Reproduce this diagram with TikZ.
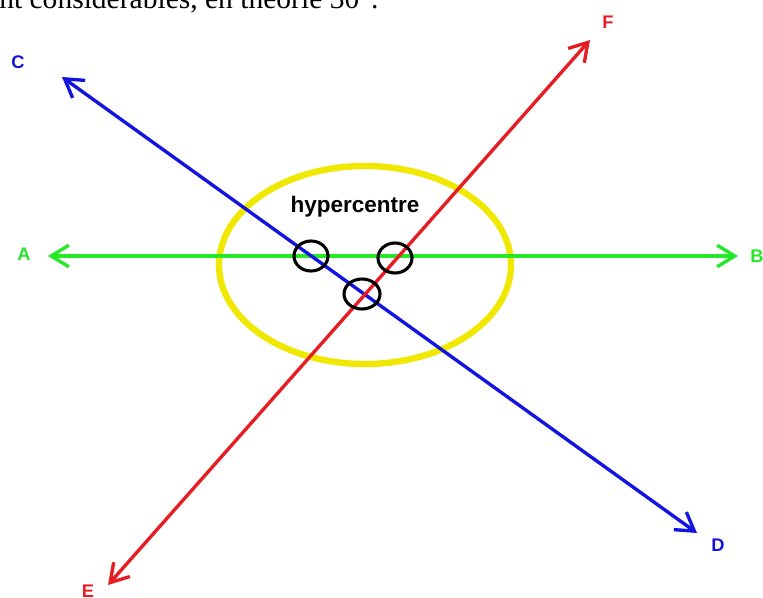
\documentclass[tikz,border=0pt]{standalone}
\usepackage{fontspec}
\setmainfont{Liberation Serif}
\setsansfont{Liberation Sans}
\usetikzlibrary{arrows.meta,positioning}
\definecolor{rayblue}{RGB}{20,20,225}
\definecolor{rayred}{RGB}{230,30,35}
\definecolor{raygreen}{RGB}{40,230,40}
\definecolor{zoneyellow}{RGB}{240,232,0}

\begin{document}
\begin{tikzpicture}[
  x=0.025cm, y=-0.025cm,
  ray/.style={line width=2.4pt, {Straight Barb[length=4.4mm,width=5.4mm]}-{Straight Barb[length=4.4mm,width=5.4mm]}},
  lbl/.style={font=\sffamily\bfseries\fontsize{13}{15}\selectfont},
  ring/.style={draw=black, line width=2.2pt}
]
  \useasboundingbox (0,0) rectangle (763,598);
  \clip (0,0) rectangle (763,598);
  \node[anchor=base west, inner sep=0pt, font=\fontsize{21}{23}\selectfont] (intro) at (-1,8) {nt considérables, en théorie 30°.};

  % hypercentre zone
  \draw[zoneyellow, line width=4.5pt] (365,265) ellipse [x radius=146, y radius=99];
  \node[font=\sffamily\bfseries\fontsize{16}{18}\selectfont] (hyper) at (355,207) {hypercentre};

  % arrow tips
  \coordinate (tipA) at (48,256);
  \coordinate (tipB) at (738,256);
  \coordinate (tipC) at (62,77);
  \coordinate (tipD) at (697,533);
  \coordinate (tipE) at (108,585);
  \coordinate (tipF) at (590,40);

  \draw[ray, raygreen] (tipA) -- (tipB);
  \draw[ray, rayblue] (tipC) -- (tipD);
  \draw[ray, rayred] (tipE) -- (tipF);

  % labels
  \node[lbl, text=raygreen] (labA) at (24,254) {A};
  \node[lbl, text=raygreen] (labB) at (757,256) {B};
  \node[lbl, text=rayblue] (labC) at (18,62) {C};
  \node[lbl, text=rayblue] (labD) at (718,545) {D};
  \node[lbl, text=rayred] (labE) at (88,591) {E};
  \node[lbl, text=rayred] (labF) at (608,22) {F};

  % crossings
  \draw[ring] (311,256) ellipse [x radius=17, y radius=15];
  \draw[ring] (395,258) ellipse [x radius=17, y radius=15];
  \draw[ring] (362,294) ellipse [x radius=18, y radius=15];
\end{tikzpicture}
\end{document}
